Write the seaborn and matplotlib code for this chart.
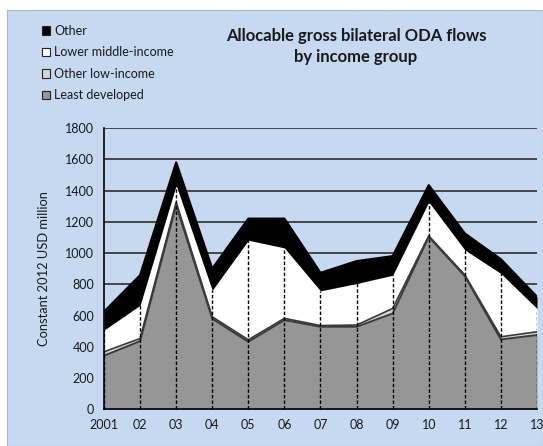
import matplotlib
matplotlib.use("Agg")
import matplotlib.pyplot as plt
import seaborn as sns
import numpy as np
import pandas as pd
from matplotlib.patches import Patch, Rectangle

# ---- data (USD million, constant 2012) ----
years = [2001, 2002, 2003, 2004, 2005, 2006, 2007, 2008, 2009, 2010, 2011, 2012, 2013]
year_labels = ["2001", "02", "03", "04", "05", "06", "07", "08", "09", "10", "11", "12", "13"]
least_developed = [343, 436, 1305, 580, 432, 571, 528, 528, 613, 1103, 852, 447, 475]
other_low_income = [25, 17, 20, 12, 13, 11, 8, 11, 32, 7, 8, 17, 21]
lower_middle_income = [139, 213, 110, 170, 637, 451, 222, 266, 213, 217, 160, 405, 149]
other = [117, 192, 145, 138, 138, 187, 115, 143, 122, 107, 105, 91, 75]
y_ticks = [0, 200, 400, 600, 800, 1000, 1200, 1400, 1600, 1800]

series_names = ["Least developed", "Other low-income", "Lower middle-income", "Other"]
colors = ["#969696", "#d4d4d4", "#ffffff", "#000000"]

sns.set_style("white")
plt.rcParams["font.family"] = ["Lato", "DejaVu Sans"]

BG = "#c6d9f1"
W, H = 543, 446
fig = plt.figure(figsize=(W / 100, H / 100), dpi=100, facecolor="white")
fig.patches.append(Rectangle((7 / W, 0), 1 - 7 / W, (H - 10) / H, transform=fig.transFigure,
                             facecolor=BG, edgecolor="#b0b8c4", linewidth=0.8, zorder=-10))

ax = fig.add_axes([104 / W, (H - 409.3) / H, 433 / W, 281.3 / H])
ax.set_facecolor(BG)
ax.patch.set_alpha(0)

df = pd.DataFrame({"year": years, "ld": least_developed, "oli": other_low_income,
                   "lmi": lower_middle_income, "oth": other})
df["top_ld"] = df["ld"]
df["top_oli"] = df["ld"] + df["oli"]
df["top_lmi"] = df["top_oli"] + df["lmi"]
df["top_oth"] = df["top_lmi"] + df["oth"]

# gridlines behind areas
for yv in y_ticks[1:]:
    ax.axhline(yv, color="#3a3a3a", lw=1.3, zorder=1)

ax.stackplot(df["year"], df["ld"], df["oli"], df["lmi"], df["oth"],
             colors=colors, linewidth=0, zorder=2)

# boundary lines
sns.lineplot(data=df, x="year", y="top_oth", color="#000000", lw=1.6, ax=ax, legend=False, zorder=3)
sns.lineplot(data=df, x="year", y="top_oli", color="#3a3a3a", lw=1.2, ax=ax, legend=False, zorder=3)
sns.lineplot(data=df, x="year", y="top_ld", color="#3a3a3a", lw=1.4, ax=ax, legend=False, zorder=3)

# drop lines
ax.vlines(df["year"], 0, df["top_lmi"], colors="#000000", linestyles=(0, (2.5, 1.5)), lw=1.0, zorder=4)

ax.set_xlim(years[0], years[-1])
ax.set_ylim(0, 1800)
ax.set_xticks(years)
ax.set_xticklabels(year_labels)
ax.set_yticks(y_ticks)
ax.set_yticklabels([str(v) for v in y_ticks])
ax.tick_params(axis="both", direction="out", length=4, width=1, color="#000000",
               labelsize=9, labelcolor="#1a1a1a", pad=3)
ax.set_xlabel("")
ax.set_ylabel("Constant 2012 USD million", fontsize=9.3, color="#1a1a1a", labelpad=11)
for s in ["top", "right"]:
    ax.spines[s].set_visible(False)
for s in ["left", "bottom"]:
    ax.spines[s].set_color("#000000")
    ax.spines[s].set_linewidth(1.2)
    ax.spines[s].set_zorder(5)
ax.grid(False)

# title
fig.text(356 / W, 1 - 46.5 / H, "Allocable gross bilateral ODA flows\nby income group",
         ha="center", va="center", fontsize=12, fontweight="bold", color="#1a1a1a",
         linespacing=1.38)

# legend
handles = [Patch(facecolor=colors[i], edgecolor="#222222", linewidth=0.8, label=series_names[i])
           for i in [3, 2, 1, 0]]
leg = fig.legend(handles=handles, loc="upper left", bbox_to_anchor=(33 / W, 1 - 16 / H),
                 frameon=False, fontsize=9, handlelength=0.65, handleheight=0.65,
                 handletextpad=0.35, labelspacing=0.76, borderpad=0.2)
for t in leg.get_texts():
    t.set_color("#1a1a1a")

fig.savefig("out.png", dpi=100, facecolor=fig.get_facecolor())
